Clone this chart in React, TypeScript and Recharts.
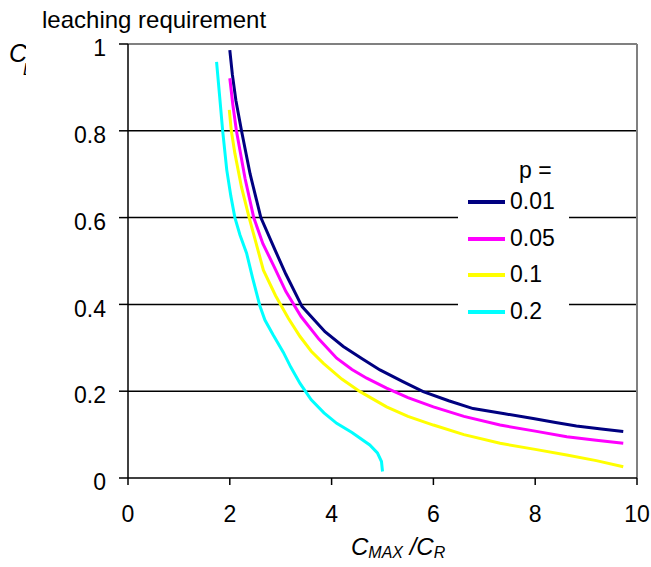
import React from 'react';
import { LineChart, Line, XAxis, YAxis, CartesianGrid, Legend, ReferenceLine } from 'recharts';

const xTicks = [0, 2, 4, 6, 8, 10];
const yTicks = [0, 0.2, 0.4, 0.6, 0.8, 1];
const seriesNames = ['0.01', '0.05', '0.1', '0.2'];
const seriesColors = ['#000080', '#FF00FF', '#FFFF00', '#00FFFF'];

const x001 = [2.0, 2.05, 2.12, 2.23, 2.4, 2.61, 2.89, 3.1, 3.42, 3.87, 4.23, 4.6, 4.95, 5.4, 5.8, 6.3, 6.78, 7.4, 7.96, 8.4, 8.81, 9.3, 9.73];
const y001 = [0.986, 0.93, 0.87, 0.8, 0.7, 0.6, 0.525, 0.47, 0.395, 0.337, 0.303, 0.275, 0.249, 0.222, 0.199, 0.178, 0.16, 0.148, 0.137, 0.128, 0.12, 0.113, 0.107];

const x005 = [2.0, 2.06, 2.13, 2.3, 2.47, 2.65, 2.87, 3.1, 3.4, 3.75, 4.1, 4.4, 4.69, 5.08, 5.5, 6.0, 6.6, 7.31, 8.0, 8.62, 9.2, 9.73];
const y005 = [0.921, 0.86, 0.8, 0.69, 0.6, 0.54, 0.487, 0.43, 0.372, 0.32, 0.276, 0.25, 0.23, 0.207, 0.185, 0.164, 0.142, 0.122, 0.108, 0.095, 0.087, 0.08];

const x01 = [1.99, 2.03, 2.1, 2.23, 2.38, 2.66, 2.9, 3.15, 3.38, 3.6, 3.84, 4.2, 4.56, 5.08, 5.5, 6.0, 6.6, 7.31, 8.0, 8.62, 9.2, 9.73];
const y01 = [0.848, 0.8, 0.748, 0.67, 0.6, 0.479, 0.42, 0.368, 0.326, 0.292, 0.264, 0.228, 0.199, 0.164, 0.142, 0.122, 0.1, 0.08, 0.066, 0.053, 0.04, 0.026];

const x02 = [1.74, 1.8, 1.86, 1.94, 2.02, 2.1, 2.2, 2.33, 2.45, 2.59, 2.69, 2.85, 3.05, 3.2, 3.38, 3.6, 3.85, 4.1, 4.4, 4.75, 4.9, 4.98, 5.0];
const y02 = [0.959, 0.88, 0.8, 0.71, 0.65, 0.6, 0.56, 0.518, 0.46, 0.397, 0.364, 0.33, 0.29, 0.255, 0.218, 0.18, 0.15, 0.126, 0.105, 0.076, 0.058, 0.038, 0.015];

const toPoints = (xs: number[], ys: number[]) => xs.map((x, i) => ({ x, y: ys[i] }));
const seriesData = [toPoints(x001, y001), toPoints(x005, y005), toPoints(x01, y01), toPoints(x02, y02)];

const FONT = '"Liberation Sans", Arial, sans-serif';
const FS = 23;

const renderLegend = (props: any) => {
  const payload = props.payload || [];
  return (
    <div style={{ position: 'relative', width: 111, height: 176, background: '#fff', fontFamily: FONT, fontSize: FS, color: '#000' }}>
      <div style={{ position: 'absolute', left: 61, top: 18 - 11.5, lineHeight: '23px', whiteSpace: 'nowrap' }}>p =</div>
      {payload.map((entry: any, i: number) => (
        <div key={i}>
          <div style={{ position: 'absolute', left: 10, top: 50 + i * 36.5 - 2, width: 37, height: 4, background: entry.color }} />
          <div style={{ position: 'absolute', left: 52, top: 50 + i * 36.5 - 12, lineHeight: '23px', whiteSpace: 'nowrap' }}>{entry.value}</div>
        </div>
      ))}
    </div>
  );
};

const XTick = (props: any) => (
  <text x={props.x} y={props.y + 0.71 * FS} textAnchor="middle" fontFamily={FONT} fontSize={FS} fill="#000">
    {props.payload.value}
  </text>
);

const YTick = (props: any) => (
  <text x={props.x} y={props.y + 0.355 * FS + 4} textAnchor="end" fontFamily={FONT} fontSize={FS} fill="#000">
    {props.payload.value}
  </text>
);

export default function App() {
  return (
    <div style={{ position: 'absolute', left: 0, top: 0, width: 651, height: 567, background: '#fff' }}>
      <LineChart width={651} height={567} margin={{ top: 44, right: 14, bottom: 59, left: 68 }}>
        <CartesianGrid horizontal={true} vertical={false} stroke="#000" strokeWidth={1.5} horizontalValues={[0.2, 0.4, 0.6, 0.8]} />
        <XAxis
          type="number"
          dataKey="x"
          domain={[0, 10]}
          ticks={xTicks}
          height={30}
          stroke="#000"
          strokeWidth={1.5}
          tickSize={7}
          tickMargin={21}
          tick={<XTick />}
          allowDataOverflow
        />
        <YAxis
          type="number"
          domain={[0, 1]}
          ticks={yTicks}
          width={60}
          stroke="#000"
          strokeWidth={1.5}
          tickSize={9}
          tickMargin={13}
          tick={<YTick />}
          allowDataOverflow
        />
        <ReferenceLine y={1} stroke="#808080" strokeWidth={2} />
        <ReferenceLine x={10} stroke="#808080" strokeWidth={2} />
        <Legend
          content={renderLegend}
          layout="vertical"
          align="center"
          verticalAlign="middle"
          wrapperStyle={{ position: 'absolute', left: 458, top: 152, width: 111, height: 176 }}
        />
        {seriesData.map((d, i) => (
          <Line
            key={seriesNames[i]}
            data={d}
            dataKey="y"
            name={seriesNames[i]}
            type="linear"
            stroke={seriesColors[i]}
            strokeWidth={3}
            dot={false}
            activeDot={false}
            isAnimationActive={false}
            legendType="line"
          />
        ))}
      </LineChart>
      <svg width={651} height={567} style={{ position: 'absolute', left: 0, top: 0, pointerEvents: 'none' }}>
        <defs>
          <clipPath id="ylabclip">
            <rect x={0} y={30} width={26} height={60} />
          </clipPath>
        </defs>
        <text x={42} y={28} fontFamily={FONT} fontSize={24} fill="#000">leaching requirement</text>
        <g clipPath="url(#ylabclip)">
          <text x={9} y={62} fontFamily={FONT} fontSize={25} fontStyle="italic" fill="#000">
            C
          </text>
          <text x={23} y={75} fontFamily={FONT} fontSize={16} fontStyle="italic" fill="#000">
            LR
          </text>
        </g>
        <text x={351} y={555} fontFamily={FONT} fontSize={24} fontStyle="italic" fill="#000">
          C
          <tspan fontSize={16} dy={3}>MAX</tspan>
          <tspan fontSize={24} dy={-3}> /C</tspan>
          <tspan fontSize={16} dy={3}>R</tspan>
        </text>
      </svg>
    </div>
  );
}
